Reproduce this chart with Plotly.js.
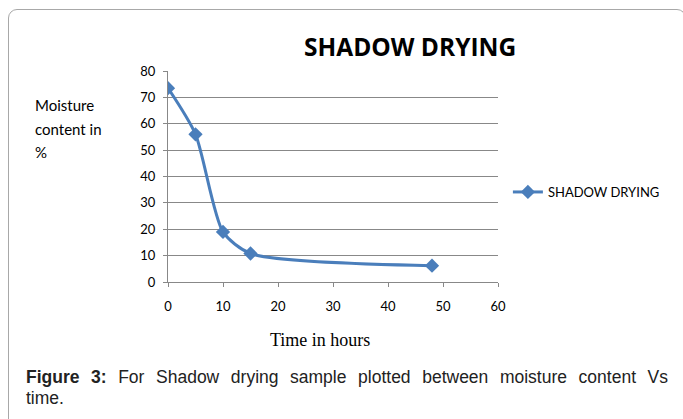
<!DOCTYPE html>
<html><head><meta charset="utf-8">
<script src="https://cdn.plot.ly/plotly-3.0.1.min.js"></script>
<style>
html,body{margin:0;padding:0;background:#fff;}
#wrap{position:relative;width:683px;height:419px;overflow:hidden;}
#plot{position:absolute;left:0;top:0;width:683px;height:419px;}
#frame{position:absolute;left:8px;top:9px;width:676px;height:430px;border:1px solid #a8a8a8;border-radius:9px;pointer-events:none;}
#cap{position:absolute;left:26px;top:367px;width:642px;font-family:"Liberation Sans",Arial,sans-serif;font-size:17.5px;line-height:21px;color:#222;}
#cap .l1{text-align:justify;text-align-last:justify;}
</style></head>
<body>
<div id="wrap">
<div id="plot"></div>
<div id="frame"></div>
<div id="cap"><div class="l1"><b>Figure 3:</b> For Shadow drying sample plotted between moisture content Vs</div><div>time.</div></div>
</div>
<script>
const timeHours = [0, 5, 10, 15, 48];
const moisture = [73.5, 56, 19, 10.8, 6.2];
const seriesName = "SHADOW DRYING";
const chartTitle = "SHADOW DRYING";
const xTitle = "Time in hours";
const yTitleLines = ["Moisture", "content in", "%"];

const tickFont = {family: "Lato, 'Open Sans', sans-serif", size: 13, color: "#000"};
const trace = {
  x: timeHours, y: moisture, name: seriesName, type: "scatter", mode: "lines+markers",
  line: {color: "#4a7ebb", width: 3, shape: "spline", smoothing: 0.7},
  marker: {symbol: "diamond", size: 11, color: "#4a7ebb"}
};
const ann = [
  {text: chartTitle, xref: "paper", yref: "paper", x: (410-168)/330, y: (282-47)/211, xanchor: "center", yanchor: "middle", showarrow: false,
   font: {family: "'Open Sans', Lato, sans-serif", size: 24.5, color: "#000", weight: "bold"}},
  {text: xTitle, xref: "paper", yref: "paper", x: (320-168)/330, y: (282-340)/211, xanchor: "center", yanchor: "middle", showarrow: false,
   font: {family: "'Liberation Serif', 'Times New Roman', serif", size: 18, color: "#000"}}
];
yTitleLines.forEach((t, i) => {
  ann.push({text: t, xref: "paper", yref: "paper", x: (33-168)/330, y: (282-(105+i*23.5))/211, xanchor: "left", yanchor: "middle", showarrow: false,
    font: {family: "Lato, 'Open Sans', sans-serif", size: 15, color: "#000"}});
});
const layout = {
  width: 683, height: 419,
  margin: {l: 168, r: 185, t: 71, b: 137},
  paper_bgcolor: "#fff", plot_bgcolor: "#fff",
  showlegend: true,
  legend: {x: 1.03, y: (282-192)/211, xanchor: "left", yanchor: "middle", font: {family: "Lato, 'Open Sans', sans-serif", size: 13, color: "#000"}, bgcolor: "rgba(0,0,0,0)"},
  xaxis: {range: [0, 60], tickvals: [0,10,20,30,40,50,60], ticks: "outside", ticklen: 4, tickcolor: "#888", ticklabelstandoff: 8,
    showline: true, linecolor: "#888", linewidth: 1, showgrid: false, zeroline: false, tickfont: tickFont, fixedrange: true},
  yaxis: {range: [0, 80], tickvals: [0,10,20,30,40,50,60,70,80], ticks: "outside", ticklen: 4, tickcolor: "#888", ticklabelstandoff: 5,
    showline: true, linecolor: "#888", linewidth: 1, showgrid: true, gridcolor: "#888", gridwidth: 1, zeroline: false, tickfont: tickFont, fixedrange: true},
  annotations: ann
};
Plotly.newPlot("plot", [trace], layout, {displayModeBar: false, staticPlot: true});
</script>
</body></html>
